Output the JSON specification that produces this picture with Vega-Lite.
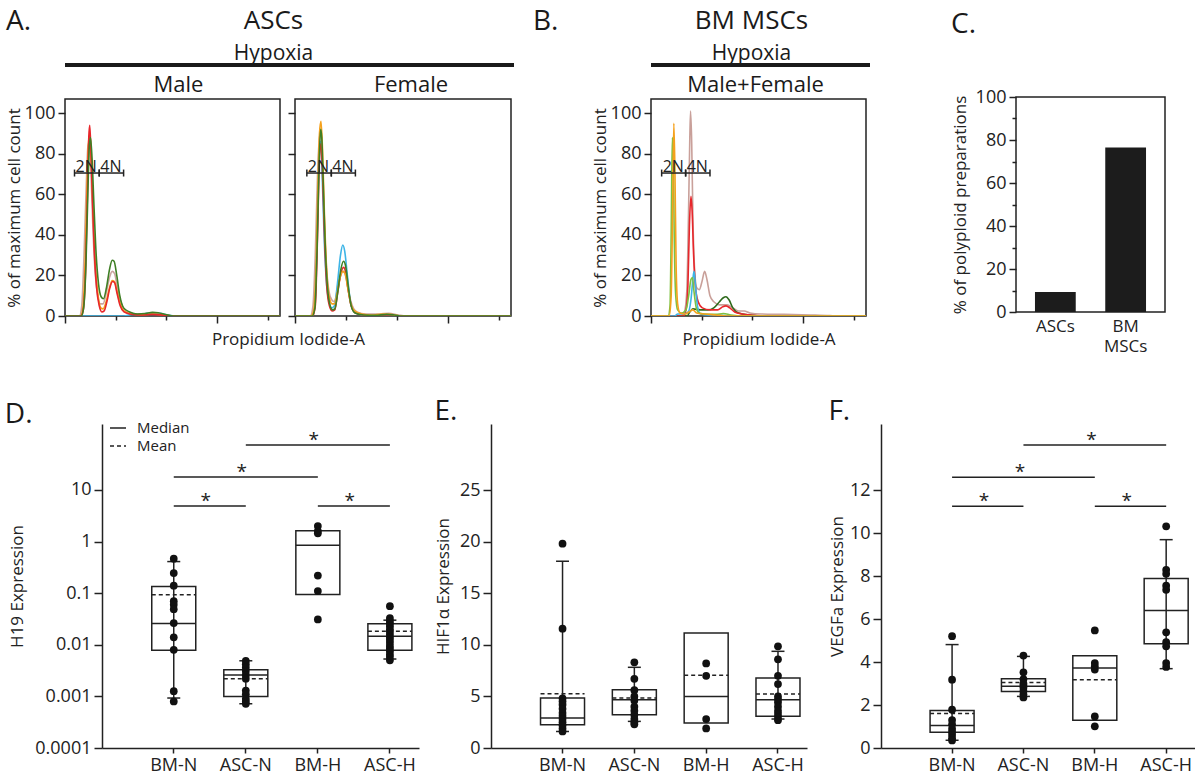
{
"$schema":"https://vega.github.io/schema/vega-lite/v6.json",
"background":"white",
"padding":{"left":3,"top":7,"right":0,"bottom":0},
"config":{
 "font":"Open Sans",
 "view":{"stroke":null},
 "axis":{"grid":false,"labelFont":"Open Sans","titleFont":"Open Sans","labelColor":"#222","titleColor":"#222","domainColor":"#222","tickColor":"#222","labelFontSize":18,"titleFontSize":17,"titleFontWeight":"normal","domainWidth":1.5,"tickWidth":1.5},
 "title":{"font":"Open Sans","fontWeight":"normal","color":"#1a1a1a","subtitleFont":"Open Sans","subtitleColor":"#1a1a1a"},
 "text":{"font":"Open Sans"}
},
"datasets":{
"hist":[
{"panel":"M","s":"cyan","x":0,"y":0},{"panel":"M","s":"cyan","x":1.55,"y":0},{"panel":"M","s":"cyan","x":1.75,"y":0.8},{"panel":"M","s":"cyan","x":2.05,"y":1.0},{"panel":"M","s":"cyan","x":2.3,"y":1.6},{"panel":"M","s":"cyan","x":2.5,"y":1.3},{"panel":"M","s":"cyan","x":2.7,"y":0.5},{"panel":"M","s":"cyan","x":2.9,"y":0},{"panel":"M","s":"cyan","x":5.65,"y":0},
{"panel":"M","s":"rosy","x":0,"y":0},{"panel":"M","s":"rosy","x":0.38,"y":0},{"panel":"M","s":"rosy","x":0.44,"y":5},{"panel":"M","s":"rosy","x":0.5,"y":30},{"panel":"M","s":"rosy","x":0.56,"y":65},{"panel":"M","s":"rosy","x":0.6,"y":83},{"panel":"M","s":"rosy","x":0.64,"y":86},{"panel":"M","s":"rosy","x":0.68,"y":72},{"panel":"M","s":"rosy","x":0.73,"y":45},{"panel":"M","s":"rosy","x":0.79,"y":22},{"panel":"M","s":"rosy","x":0.86,"y":10},{"panel":"M","s":"rosy","x":0.93,"y":6},{"panel":"M","s":"rosy","x":1.0,"y":6},{"panel":"M","s":"rosy","x":1.08,"y":11},{"panel":"M","s":"rosy","x":1.17,"y":19},{"panel":"M","s":"rosy","x":1.24,"y":22},{"panel":"M","s":"rosy","x":1.3,"y":21},{"panel":"M","s":"rosy","x":1.37,"y":15},{"panel":"M","s":"rosy","x":1.45,"y":8},{"panel":"M","s":"rosy","x":1.55,"y":3.5},{"panel":"M","s":"rosy","x":1.7,"y":1.5},{"panel":"M","s":"rosy","x":2.0,"y":1},{"panel":"M","s":"rosy","x":2.3,"y":1.2},{"panel":"M","s":"rosy","x":2.6,"y":0.6},{"panel":"M","s":"rosy","x":2.9,"y":0},{"panel":"M","s":"rosy","x":5.65,"y":0},
{"panel":"M","s":"orange","x":0,"y":0},{"panel":"M","s":"orange","x":0.41,"y":0},{"panel":"M","s":"orange","x":0.47,"y":4},{"panel":"M","s":"orange","x":0.53,"y":28},{"panel":"M","s":"orange","x":0.58,"y":65},{"panel":"M","s":"orange","x":0.62,"y":86},{"panel":"M","s":"orange","x":0.655,"y":90},{"panel":"M","s":"orange","x":0.69,"y":78},{"panel":"M","s":"orange","x":0.74,"y":50},{"panel":"M","s":"orange","x":0.8,"y":25},{"panel":"M","s":"orange","x":0.87,"y":10},{"panel":"M","s":"orange","x":0.94,"y":4},{"panel":"M","s":"orange","x":1.0,"y":3.5},{"panel":"M","s":"orange","x":1.08,"y":7},{"panel":"M","s":"orange","x":1.17,"y":14},{"panel":"M","s":"orange","x":1.24,"y":17.5},{"panel":"M","s":"orange","x":1.3,"y":17},{"panel":"M","s":"orange","x":1.37,"y":12},{"panel":"M","s":"orange","x":1.45,"y":6},{"panel":"M","s":"orange","x":1.55,"y":2.5},{"panel":"M","s":"orange","x":1.7,"y":1.2},{"panel":"M","s":"orange","x":2.0,"y":0.6},{"panel":"M","s":"orange","x":2.3,"y":1},{"panel":"M","s":"orange","x":2.6,"y":0.5},{"panel":"M","s":"orange","x":2.85,"y":0},{"panel":"M","s":"orange","x":5.65,"y":0},
{"panel":"M","s":"red","x":0,"y":0},{"panel":"M","s":"red","x":0.42,"y":0},{"panel":"M","s":"red","x":0.48,"y":3},{"panel":"M","s":"red","x":0.54,"y":22},{"panel":"M","s":"red","x":0.59,"y":60},{"panel":"M","s":"red","x":0.625,"y":88},{"panel":"M","s":"red","x":0.65,"y":94},{"panel":"M","s":"red","x":0.68,"y":82},{"panel":"M","s":"red","x":0.72,"y":58},{"panel":"M","s":"red","x":0.77,"y":32},{"panel":"M","s":"red","x":0.83,"y":14},{"panel":"M","s":"red","x":0.9,"y":5},{"panel":"M","s":"red","x":0.97,"y":2},{"panel":"M","s":"red","x":1.03,"y":2.5},{"panel":"M","s":"red","x":1.1,"y":7},{"panel":"M","s":"red","x":1.18,"y":14},{"panel":"M","s":"red","x":1.25,"y":17},{"panel":"M","s":"red","x":1.3,"y":16.5},{"panel":"M","s":"red","x":1.37,"y":11},{"panel":"M","s":"red","x":1.45,"y":5},{"panel":"M","s":"red","x":1.55,"y":2},{"panel":"M","s":"red","x":1.7,"y":1},{"panel":"M","s":"red","x":2.0,"y":0.5},{"panel":"M","s":"red","x":2.3,"y":0.8},{"panel":"M","s":"red","x":2.6,"y":0.4},{"panel":"M","s":"red","x":2.85,"y":0},{"panel":"M","s":"red","x":5.65,"y":0},
{"panel":"M","s":"green","x":0,"y":0},{"panel":"M","s":"green","x":0.43,"y":0},{"panel":"M","s":"green","x":0.49,"y":4},{"panel":"M","s":"green","x":0.55,"y":25},{"panel":"M","s":"green","x":0.6,"y":60},{"panel":"M","s":"green","x":0.64,"y":84},{"panel":"M","s":"green","x":0.67,"y":88},{"panel":"M","s":"green","x":0.71,"y":78},{"panel":"M","s":"green","x":0.76,"y":55},{"panel":"M","s":"green","x":0.82,"y":30},{"panel":"M","s":"green","x":0.88,"y":16},{"panel":"M","s":"green","x":0.95,"y":9.5},{"panel":"M","s":"green","x":1.01,"y":8.5},{"panel":"M","s":"green","x":1.09,"y":14},{"panel":"M","s":"green","x":1.17,"y":23},{"panel":"M","s":"green","x":1.24,"y":27.5},{"panel":"M","s":"green","x":1.29,"y":27},{"panel":"M","s":"green","x":1.36,"y":20},{"panel":"M","s":"green","x":1.44,"y":10},{"panel":"M","s":"green","x":1.54,"y":4},{"panel":"M","s":"green","x":1.7,"y":2},{"panel":"M","s":"green","x":1.9,"y":1},{"panel":"M","s":"green","x":2.1,"y":1.2},{"panel":"M","s":"green","x":2.3,"y":1.8},{"panel":"M","s":"green","x":2.45,"y":1.6},{"panel":"M","s":"green","x":2.65,"y":0.7},{"panel":"M","s":"green","x":2.85,"y":0},{"panel":"M","s":"green","x":5.65,"y":0},
{"panel":"F","s":"rosy","x":0,"y":0},{"panel":"F","s":"rosy","x":0.4,"y":0},{"panel":"F","s":"rosy","x":0.47,"y":5},{"panel":"F","s":"rosy","x":0.53,"y":30},{"panel":"F","s":"rosy","x":0.59,"y":70},{"panel":"F","s":"rosy","x":0.64,"y":88},{"panel":"F","s":"rosy","x":0.67,"y":90},{"panel":"F","s":"rosy","x":0.71,"y":78},{"panel":"F","s":"rosy","x":0.76,"y":50},{"panel":"F","s":"rosy","x":0.82,"y":25},{"panel":"F","s":"rosy","x":0.89,"y":12},{"panel":"F","s":"rosy","x":0.96,"y":8},{"panel":"F","s":"rosy","x":1.03,"y":7},{"panel":"F","s":"rosy","x":1.1,"y":12},{"panel":"F","s":"rosy","x":1.18,"y":19},{"panel":"F","s":"rosy","x":1.26,"y":22},{"panel":"F","s":"rosy","x":1.32,"y":20},{"panel":"F","s":"rosy","x":1.4,"y":12},{"panel":"F","s":"rosy","x":1.5,"y":5},{"panel":"F","s":"rosy","x":1.62,"y":2},{"panel":"F","s":"rosy","x":1.85,"y":1},{"panel":"F","s":"rosy","x":2.2,"y":1},{"panel":"F","s":"rosy","x":2.45,"y":1.3},{"panel":"F","s":"rosy","x":2.7,"y":0.5},{"panel":"F","s":"rosy","x":2.9,"y":0},{"panel":"F","s":"rosy","x":5.65,"y":0},
{"panel":"F","s":"cyan","x":0,"y":0},{"panel":"F","s":"cyan","x":0.45,"y":0},{"panel":"F","s":"cyan","x":0.52,"y":5},{"panel":"F","s":"cyan","x":0.58,"y":40},{"panel":"F","s":"cyan","x":0.63,"y":78},{"panel":"F","s":"cyan","x":0.67,"y":86},{"panel":"F","s":"cyan","x":0.71,"y":70},{"panel":"F","s":"cyan","x":0.76,"y":40},{"panel":"F","s":"cyan","x":0.82,"y":17},{"panel":"F","s":"cyan","x":0.89,"y":7},{"panel":"F","s":"cyan","x":0.96,"y":4},{"panel":"F","s":"cyan","x":1.03,"y":5},{"panel":"F","s":"cyan","x":1.11,"y":16},{"panel":"F","s":"cyan","x":1.19,"y":30},{"panel":"F","s":"cyan","x":1.25,"y":35},{"panel":"F","s":"cyan","x":1.3,"y":32},{"panel":"F","s":"cyan","x":1.37,"y":20},{"panel":"F","s":"cyan","x":1.45,"y":7},{"panel":"F","s":"cyan","x":1.55,"y":2},{"panel":"F","s":"cyan","x":1.75,"y":0.5},{"panel":"F","s":"cyan","x":2.0,"y":0},{"panel":"F","s":"cyan","x":5.65,"y":0},
{"panel":"F","s":"red","x":0,"y":0},{"panel":"F","s":"red","x":0.46,"y":0},{"panel":"F","s":"red","x":0.53,"y":5},{"panel":"F","s":"red","x":0.59,"y":40},{"panel":"F","s":"red","x":0.64,"y":78},{"panel":"F","s":"red","x":0.68,"y":85},{"panel":"F","s":"red","x":0.72,"y":70},{"panel":"F","s":"red","x":0.77,"y":40},{"panel":"F","s":"red","x":0.83,"y":15},{"panel":"F","s":"red","x":0.9,"y":5},{"panel":"F","s":"red","x":0.97,"y":2.5},{"panel":"F","s":"red","x":1.04,"y":3},{"panel":"F","s":"red","x":1.12,"y":12},{"panel":"F","s":"red","x":1.2,"y":21},{"panel":"F","s":"red","x":1.27,"y":24},{"panel":"F","s":"red","x":1.32,"y":22},{"panel":"F","s":"red","x":1.39,"y":13},{"panel":"F","s":"red","x":1.47,"y":5},{"panel":"F","s":"red","x":1.58,"y":1.5},{"panel":"F","s":"red","x":1.8,"y":0.5},{"panel":"F","s":"red","x":2.1,"y":0},{"panel":"F","s":"red","x":5.65,"y":0},
{"panel":"F","s":"orange","x":0,"y":0},{"panel":"F","s":"orange","x":0.42,"y":0},{"panel":"F","s":"orange","x":0.49,"y":3},{"panel":"F","s":"orange","x":0.55,"y":25},{"panel":"F","s":"orange","x":0.6,"y":65},{"panel":"F","s":"orange","x":0.64,"y":90},{"panel":"F","s":"orange","x":0.68,"y":96},{"panel":"F","s":"orange","x":0.72,"y":82},{"panel":"F","s":"orange","x":0.77,"y":50},{"panel":"F","s":"orange","x":0.83,"y":22},{"panel":"F","s":"orange","x":0.9,"y":9},{"panel":"F","s":"orange","x":0.97,"y":6},{"panel":"F","s":"orange","x":1.03,"y":6},{"panel":"F","s":"orange","x":1.1,"y":11},{"panel":"F","s":"orange","x":1.18,"y":19},{"panel":"F","s":"orange","x":1.25,"y":22},{"panel":"F","s":"orange","x":1.31,"y":21},{"panel":"F","s":"orange","x":1.38,"y":14},{"panel":"F","s":"orange","x":1.46,"y":6},{"panel":"F","s":"orange","x":1.56,"y":2.5},{"panel":"F","s":"orange","x":1.75,"y":1},{"panel":"F","s":"orange","x":2.0,"y":0.5},{"panel":"F","s":"orange","x":2.3,"y":1},{"panel":"F","s":"orange","x":2.5,"y":0.8},{"panel":"F","s":"orange","x":2.75,"y":0},{"panel":"F","s":"orange","x":5.65,"y":0},
{"panel":"F","s":"green","x":0,"y":0},{"panel":"F","s":"green","x":0.45,"y":0},{"panel":"F","s":"green","x":0.52,"y":4},{"panel":"F","s":"green","x":0.58,"y":35},{"panel":"F","s":"green","x":0.63,"y":75},{"panel":"F","s":"green","x":0.67,"y":92},{"panel":"F","s":"green","x":0.7,"y":88},{"panel":"F","s":"green","x":0.74,"y":65},{"panel":"F","s":"green","x":0.79,"y":35},{"panel":"F","s":"green","x":0.85,"y":14},{"panel":"F","s":"green","x":0.92,"y":5},{"panel":"F","s":"green","x":0.98,"y":3},{"panel":"F","s":"green","x":1.04,"y":3.5},{"panel":"F","s":"green","x":1.12,"y":12},{"panel":"F","s":"green","x":1.2,"y":23},{"panel":"F","s":"green","x":1.27,"y":27},{"panel":"F","s":"green","x":1.32,"y":25},{"panel":"F","s":"green","x":1.39,"y":15},{"panel":"F","s":"green","x":1.47,"y":5},{"panel":"F","s":"green","x":1.57,"y":1.5},{"panel":"F","s":"green","x":1.8,"y":0.5},{"panel":"F","s":"green","x":2.1,"y":0.3},{"panel":"F","s":"green","x":2.4,"y":0.8},{"panel":"F","s":"green","x":2.6,"y":0.5},{"panel":"F","s":"green","x":2.8,"y":0},{"panel":"F","s":"green","x":5.65,"y":0},
{"panel":"B","s":"rosy","x":0,"y":0},{"panel":"B","s":"rosy","x":0.8,"y":0},{"panel":"B","s":"rosy","x":0.88,"y":2},{"panel":"B","s":"rosy","x":0.94,"y":12},{"panel":"B","s":"rosy","x":0.99,"y":55},{"panel":"B","s":"rosy","x":1.02,"y":88},{"panel":"B","s":"rosy","x":1.04,"y":101},{"panel":"B","s":"rosy","x":1.07,"y":85},{"panel":"B","s":"rosy","x":1.1,"y":50},{"panel":"B","s":"rosy","x":1.14,"y":25},{"panel":"B","s":"rosy","x":1.2,"y":14},{"panel":"B","s":"rosy","x":1.27,"y":13},{"panel":"B","s":"rosy","x":1.34,"y":17},{"panel":"B","s":"rosy","x":1.41,"y":22},{"panel":"B","s":"rosy","x":1.47,"y":18},{"panel":"B","s":"rosy","x":1.55,"y":10},{"panel":"B","s":"rosy","x":1.65,"y":7},{"panel":"B","s":"rosy","x":1.8,"y":5.5},{"panel":"B","s":"rosy","x":2.0,"y":5.5},{"panel":"B","s":"rosy","x":2.15,"y":4},{"panel":"B","s":"rosy","x":2.3,"y":2.5},{"panel":"B","s":"rosy","x":2.45,"y":2.5},{"panel":"B","s":"rosy","x":2.6,"y":1.5},{"panel":"B","s":"rosy","x":2.9,"y":1},{"panel":"B","s":"rosy","x":3.5,"y":0.8},{"panel":"B","s":"rosy","x":4.2,"y":0.5},{"panel":"B","s":"rosy","x":4.7,"y":0.2},{"panel":"B","s":"rosy","x":4.9,"y":0},{"panel":"B","s":"rosy","x":5.65,"y":0},
{"panel":"B","s":"dgreen","x":0,"y":0},{"panel":"B","s":"dgreen","x":0.95,"y":0},{"panel":"B","s":"dgreen","x":1.02,"y":2},{"panel":"B","s":"dgreen","x":1.1,"y":3.5},{"panel":"B","s":"dgreen","x":1.3,"y":3},{"panel":"B","s":"dgreen","x":1.5,"y":3},{"panel":"B","s":"dgreen","x":1.65,"y":4},{"panel":"B","s":"dgreen","x":1.8,"y":7},{"panel":"B","s":"dgreen","x":1.9,"y":9},{"panel":"B","s":"dgreen","x":1.97,"y":9.5},{"panel":"B","s":"dgreen","x":2.05,"y":8},{"panel":"B","s":"dgreen","x":2.15,"y":4},{"panel":"B","s":"dgreen","x":2.3,"y":1.5},{"panel":"B","s":"dgreen","x":2.6,"y":0.5},{"panel":"B","s":"dgreen","x":3.0,"y":0},{"panel":"B","s":"dgreen","x":5.65,"y":0},
{"panel":"B","s":"red","x":0,"y":0},{"panel":"B","s":"red","x":0.85,"y":0},{"panel":"B","s":"red","x":0.92,"y":3},{"panel":"B","s":"red","x":0.97,"y":15},{"panel":"B","s":"red","x":1.01,"y":45},{"panel":"B","s":"red","x":1.05,"y":59},{"panel":"B","s":"red","x":1.08,"y":52},{"panel":"B","s":"red","x":1.12,"y":30},{"panel":"B","s":"red","x":1.17,"y":14},{"panel":"B","s":"red","x":1.24,"y":7},{"panel":"B","s":"red","x":1.35,"y":4},{"panel":"B","s":"red","x":1.55,"y":3},{"panel":"B","s":"red","x":1.75,"y":3},{"panel":"B","s":"red","x":1.88,"y":4.5},{"panel":"B","s":"red","x":1.97,"y":5},{"panel":"B","s":"red","x":2.07,"y":4},{"panel":"B","s":"red","x":2.2,"y":2},{"panel":"B","s":"red","x":2.4,"y":1},{"panel":"B","s":"red","x":2.7,"y":0.4},{"panel":"B","s":"red","x":3.0,"y":0},{"panel":"B","s":"red","x":5.65,"y":0},
{"panel":"B","s":"cyan","x":0,"y":0},{"panel":"B","s":"cyan","x":0.62,"y":0},{"panel":"B","s":"cyan","x":0.7,"y":1},{"panel":"B","s":"cyan","x":0.85,"y":1},{"panel":"B","s":"cyan","x":0.98,"y":2},{"panel":"B","s":"cyan","x":1.05,"y":8},{"panel":"B","s":"cyan","x":1.1,"y":18},{"panel":"B","s":"cyan","x":1.13,"y":22},{"panel":"B","s":"cyan","x":1.17,"y":15},{"panel":"B","s":"cyan","x":1.22,"y":5},{"panel":"B","s":"cyan","x":1.3,"y":1},{"panel":"B","s":"cyan","x":1.5,"y":0.5},{"panel":"B","s":"cyan","x":1.8,"y":0.5},{"panel":"B","s":"cyan","x":2.1,"y":0},{"panel":"B","s":"cyan","x":5.65,"y":0},
{"panel":"B","s":"ygreen","x":0,"y":0},{"panel":"B","s":"ygreen","x":0.45,"y":0},{"panel":"B","s":"ygreen","x":0.5,"y":5},{"panel":"B","s":"ygreen","x":0.53,"y":40},{"panel":"B","s":"ygreen","x":0.56,"y":88},{"panel":"B","s":"ygreen","x":0.585,"y":80},{"panel":"B","s":"ygreen","x":0.61,"y":40},{"panel":"B","s":"ygreen","x":0.65,"y":10},{"panel":"B","s":"ygreen","x":0.7,"y":3},{"panel":"B","s":"ygreen","x":0.8,"y":1.5},{"panel":"B","s":"ygreen","x":0.92,"y":3},{"panel":"B","s":"ygreen","x":0.99,"y":10},{"panel":"B","s":"ygreen","x":1.05,"y":18},{"panel":"B","s":"ygreen","x":1.09,"y":19},{"panel":"B","s":"ygreen","x":1.13,"y":12},{"panel":"B","s":"ygreen","x":1.19,"y":4},{"panel":"B","s":"ygreen","x":1.26,"y":1.5},{"panel":"B","s":"ygreen","x":1.4,"y":1},{"panel":"B","s":"ygreen","x":1.7,"y":0.8},{"panel":"B","s":"ygreen","x":1.9,"y":1.2},{"panel":"B","s":"ygreen","x":2.1,"y":0.5},{"panel":"B","s":"ygreen","x":2.4,"y":0},{"panel":"B","s":"ygreen","x":5.65,"y":0},
{"panel":"B","s":"orange","x":0,"y":0},{"panel":"B","s":"orange","x":0.48,"y":0},{"panel":"B","s":"orange","x":0.53,"y":10},{"panel":"B","s":"orange","x":0.57,"y":55},{"panel":"B","s":"orange","x":0.6,"y":95},{"panel":"B","s":"orange","x":0.63,"y":70},{"panel":"B","s":"orange","x":0.66,"y":25},{"panel":"B","s":"orange","x":0.7,"y":6},{"panel":"B","s":"orange","x":0.76,"y":1.5},{"panel":"B","s":"orange","x":0.9,"y":1},{"panel":"B","s":"orange","x":1.0,"y":2},{"panel":"B","s":"orange","x":1.1,"y":3},{"panel":"B","s":"orange","x":1.2,"y":1.5},{"panel":"B","s":"orange","x":1.4,"y":1},{"panel":"B","s":"orange","x":1.7,"y":0.5},{"panel":"B","s":"orange","x":2.0,"y":0},{"panel":"B","s":"orange","x":5.65,"y":0}
],
"gates":[
{"panel":"M","gate":"2N","start":0.25,"end":0.9,"level":70.5},{"panel":"M","gate":"4N","start":0.9,"end":1.54,"level":70.5},
{"panel":"F","gate":"2N","start":0.31,"end":0.95,"level":70.5},{"panel":"F","gate":"4N","start":0.95,"end":1.58,"level":70.5},
{"panel":"B","gate":"2N","start":0.28,"end":0.91,"level":70.5},{"panel":"B","gate":"4N","start":0.91,"end":1.55,"level":70.5}
],
"poly":[{"cell":"ASCs","pct":9.3},{"cell":"BM MSCs","pct":76.5}],
"box":[
{"gene":"H19","group":"BM-N","q1":0.0078,"q3":0.135,"Median":0.026,"Mean":0.093,"lo":0.00093,"hi":0.41},
{"gene":"H19","group":"ASC-N","q1":0.001,"q3":0.0033,"Median":0.0026,"Mean":0.0022,"lo":0.00072,"hi":0.0049},
{"gene":"H19","group":"BM-H","q1":0.094,"q3":1.63,"Median":0.85,"Mean":null,"lo":null,"hi":null},
{"gene":"H19","group":"ASC-H","q1":0.0078,"q3":0.0257,"Median":0.0146,"Mean":0.0182,"lo":0.0053,"hi":0.03},
{"gene":"HIF1a","group":"BM-N","q1":2.26,"q3":4.84,"Median":2.9,"Mean":5.26,"lo":1.6,"hi":18.1},
{"gene":"HIF1a","group":"ASC-N","q1":3.23,"q3":5.65,"Median":4.68,"Mean":4.84,"lo":2.58,"hi":7.82},
{"gene":"HIF1a","group":"BM-H","q1":2.42,"q3":11.14,"Median":5.0,"Mean":7.04,"lo":null,"hi":null},
{"gene":"HIF1a","group":"ASC-H","q1":3.07,"q3":6.78,"Median":4.68,"Mean":5.23,"lo":2.81,"hi":9.37},
{"gene":"VEGFa","group":"BM-N","q1":0.73,"q3":1.75,"Median":1.05,"Mean":1.6,"lo":0.36,"hi":4.81},
{"gene":"VEGFa","group":"ASC-N","q1":2.63,"q3":3.22,"Median":2.87,"Mean":3.05,"lo":2.4,"hi":4.26},
{"gene":"VEGFa","group":"BM-H","q1":1.29,"q3":4.29,"Median":3.72,"Mean":3.18,"lo":null,"hi":null},
{"gene":"VEGFa","group":"ASC-H","q1":4.85,"q3":7.88,"Median":6.4,"Mean":null,"lo":3.69,"hi":9.69}
],
"pts":[
{"gene":"H19","group":"BM-N","v":0.466},{"gene":"H19","group":"BM-N","v":0.246},{"gene":"H19","group":"BM-N","v":0.14},{"gene":"H19","group":"BM-N","v":0.07},{"gene":"H19","group":"BM-N","v":0.06},{"gene":"H19","group":"BM-N","v":0.049},{"gene":"H19","group":"BM-N","v":0.0264},{"gene":"H19","group":"BM-N","v":0.014},{"gene":"H19","group":"BM-N","v":0.008},{"gene":"H19","group":"BM-N","v":0.00126},{"gene":"H19","group":"BM-N","v":0.0008},
{"gene":"H19","group":"ASC-N","v":0.0049},{"gene":"H19","group":"ASC-N","v":0.0042},{"gene":"H19","group":"ASC-N","v":0.0036},{"gene":"H19","group":"ASC-N","v":0.0031},{"gene":"H19","group":"ASC-N","v":0.0026},{"gene":"H19","group":"ASC-N","v":0.0022},{"gene":"H19","group":"ASC-N","v":0.0013},{"gene":"H19","group":"ASC-N","v":0.0011},{"gene":"H19","group":"ASC-N","v":0.0009},{"gene":"H19","group":"ASC-N","v":0.0008},{"gene":"H19","group":"ASC-N","v":0.00072},
{"gene":"H19","group":"BM-H","v":2.0},{"gene":"H19","group":"BM-H","v":1.6},{"gene":"H19","group":"BM-H","v":1.45},{"gene":"H19","group":"BM-H","v":0.22},{"gene":"H19","group":"BM-H","v":0.11},{"gene":"H19","group":"BM-H","v":0.031},
{"gene":"H19","group":"ASC-H","v":0.056},{"gene":"H19","group":"ASC-H","v":0.033},{"gene":"H19","group":"ASC-H","v":0.029},{"gene":"H19","group":"ASC-H","v":0.026},{"gene":"H19","group":"ASC-H","v":0.023},{"gene":"H19","group":"ASC-H","v":0.02},{"gene":"H19","group":"ASC-H","v":0.018},{"gene":"H19","group":"ASC-H","v":0.016},{"gene":"H19","group":"ASC-H","v":0.014},{"gene":"H19","group":"ASC-H","v":0.0125},{"gene":"H19","group":"ASC-H","v":0.011},{"gene":"H19","group":"ASC-H","v":0.0095},{"gene":"H19","group":"ASC-H","v":0.0085},{"gene":"H19","group":"ASC-H","v":0.0075},{"gene":"H19","group":"ASC-H","v":0.0065},{"gene":"H19","group":"ASC-H","v":0.0058},{"gene":"H19","group":"ASC-H","v":0.005},
{"gene":"HIF1a","group":"BM-N","v":19.8},{"gene":"HIF1a","group":"BM-N","v":11.56},{"gene":"HIF1a","group":"BM-N","v":4.8},{"gene":"HIF1a","group":"BM-N","v":4.5},{"gene":"HIF1a","group":"BM-N","v":4.2},{"gene":"HIF1a","group":"BM-N","v":3.8},{"gene":"HIF1a","group":"BM-N","v":3.4},{"gene":"HIF1a","group":"BM-N","v":3.1},{"gene":"HIF1a","group":"BM-N","v":2.8},{"gene":"HIF1a","group":"BM-N","v":2.5},{"gene":"HIF1a","group":"BM-N","v":2.2},{"gene":"HIF1a","group":"BM-N","v":1.9},{"gene":"HIF1a","group":"BM-N","v":1.6},
{"gene":"HIF1a","group":"ASC-N","v":8.3},{"gene":"HIF1a","group":"ASC-N","v":6.7},{"gene":"HIF1a","group":"ASC-N","v":5.6},{"gene":"HIF1a","group":"ASC-N","v":5.0},{"gene":"HIF1a","group":"ASC-N","v":4.6},{"gene":"HIF1a","group":"ASC-N","v":4.0},{"gene":"HIF1a","group":"ASC-N","v":3.6},{"gene":"HIF1a","group":"ASC-N","v":3.2},{"gene":"HIF1a","group":"ASC-N","v":2.8},{"gene":"HIF1a","group":"ASC-N","v":2.5},{"gene":"HIF1a","group":"ASC-N","v":2.3},
{"gene":"HIF1a","group":"BM-H","v":8.2},{"gene":"HIF1a","group":"BM-H","v":7.0},{"gene":"HIF1a","group":"BM-H","v":2.8},{"gene":"HIF1a","group":"BM-H","v":1.9},
{"gene":"HIF1a","group":"ASC-H","v":9.85},{"gene":"HIF1a","group":"ASC-H","v":8.6},{"gene":"HIF1a","group":"ASC-H","v":7.0},{"gene":"HIF1a","group":"ASC-H","v":6.2},{"gene":"HIF1a","group":"ASC-H","v":5.0},{"gene":"HIF1a","group":"ASC-H","v":4.7},{"gene":"HIF1a","group":"ASC-H","v":4.4},{"gene":"HIF1a","group":"ASC-H","v":4.0},{"gene":"HIF1a","group":"ASC-H","v":3.6},{"gene":"HIF1a","group":"ASC-H","v":3.3},{"gene":"HIF1a","group":"ASC-H","v":3.0},{"gene":"HIF1a","group":"ASC-H","v":2.7},
{"gene":"VEGFa","group":"BM-N","v":5.2},{"gene":"VEGFa","group":"BM-N","v":3.18},{"gene":"VEGFa","group":"BM-N","v":1.78},{"gene":"VEGFa","group":"BM-N","v":1.3},{"gene":"VEGFa","group":"BM-N","v":1.1},{"gene":"VEGFa","group":"BM-N","v":0.9},{"gene":"VEGFa","group":"BM-N","v":0.75},{"gene":"VEGFa","group":"BM-N","v":0.6},{"gene":"VEGFa","group":"BM-N","v":0.45},{"gene":"VEGFa","group":"BM-N","v":0.35},
{"gene":"VEGFa","group":"ASC-N","v":4.3},{"gene":"VEGFa","group":"ASC-N","v":3.52},{"gene":"VEGFa","group":"ASC-N","v":3.2},{"gene":"VEGFa","group":"ASC-N","v":3.0},{"gene":"VEGFa","group":"ASC-N","v":2.9},{"gene":"VEGFa","group":"ASC-N","v":2.8},{"gene":"VEGFa","group":"ASC-N","v":2.65},{"gene":"VEGFa","group":"ASC-N","v":2.5},{"gene":"VEGFa","group":"ASC-N","v":2.35},
{"gene":"VEGFa","group":"BM-H","v":5.47},{"gene":"VEGFa","group":"BM-H","v":3.95},{"gene":"VEGFa","group":"BM-H","v":3.8},{"gene":"VEGFa","group":"BM-H","v":3.65},{"gene":"VEGFa","group":"BM-H","v":1.47},{"gene":"VEGFa","group":"BM-H","v":1.01},
{"gene":"VEGFa","group":"ASC-H","v":10.31},{"gene":"VEGFa","group":"ASC-H","v":8.29},{"gene":"VEGFa","group":"ASC-H","v":8.1},{"gene":"VEGFa","group":"ASC-H","v":7.55},{"gene":"VEGFa","group":"ASC-H","v":7.36},{"gene":"VEGFa","group":"ASC-H","v":5.38},{"gene":"VEGFa","group":"ASC-H","v":4.92},{"gene":"VEGFa","group":"ASC-H","v":4.73},{"gene":"VEGFa","group":"ASC-H","v":3.95},{"gene":"VEGFa","group":"ASC-H","v":3.77}
],
"sig":[
{"gene":"H19","from":"BM-N","to":"ASC-N","y":4.9,"span":1},{"gene":"H19","from":"BM-N","to":"BM-H","y":17.9,"span":2},{"gene":"H19","from":"ASC-N","to":"ASC-H","y":74.5,"span":2},{"gene":"H19","from":"BM-H","to":"ASC-H","y":4.9,"span":1},
{"gene":"VEGFa","from":"BM-N","to":"ASC-N","y":11.24,"span":1},{"gene":"VEGFa","from":"BM-N","to":"BM-H","y":12.59,"span":2},{"gene":"VEGFa","from":"ASC-N","to":"ASC-H","y":14.09,"span":2},{"gene":"VEGFa","from":"BM-H","to":"ASC-H","y":11.24,"span":1}
]
},
"resolve":{"scale":{"x":"independent","y":"independent","color":"independent","strokeDash":"independent"},"legend":{"strokeDash":"independent","color":"independent"}},
"spacing":43,
"vconcat":[
{
 "spacing":0,
 "resolve":{"scale":{"x":"independent","y":"independent","color":"independent"}},
 "hconcat":[
  {"width":1,"height":1,"data":{"values":[{}]},"mark":{"type":"text","text":""},"encoding":{}},
  {
 "spacing":19,
 "resolve":{"scale":{"x":"independent","y":"independent","color":"independent"}},
 "hconcat":[
  {
   "bounds":"flush",
   "spacing":32,
   "vconcat":[
    {"width":449,"height":1,"title":{"text":"A.","fontSize":28,"anchor":"start","frame":"group","offset":-11,"dx":-59},
     "data":{"values":[{}]},"mark":{"type":"text","text":""},"encoding":{}},
    {"width":449,"height":4,"view":{"fill":"#1a1a1a","stroke":null},
     "title":{"text":"ASCs","subtitle":"Hypoxia","fontSize":26,"subtitleFontSize":21,"subtitlePadding":9,"offset":-5,"anchor":"middle","frame":"group","dx":-16},
     "data":{"values":[{}]},"mark":{"type":"text","text":""},"encoding":{}},
    {"bounds":"flush","spacing":15,
     "hconcat":[
      {"width":215,"height":217,"view":{"stroke":"#222","strokeWidth":1.5},
       "title":{"text":"Male","fontSize":22,"offset":2,"dx":6},
       "layer":[
        {"data":{"name":"hist"},"transform":[{"filter":"datum.panel === 'M'"}],
         "mark":{"type":"line","interpolate":"monotone","strokeWidth":1.6,"clip":true},
         "encoding":{
          "x":{"field":"x","type":"quantitative","scale":{"domain":[0,5.65],"nice":false,"zero":false},
               "axis":{"values":[0,0.3333,0.6667,1,1.3333,1.6667,2,2.3333,2.6667,3,3.3333,3.6667,4,4.3333,4.6667,5,5.3333],"labels":false,"domain":false,"tickSize":{"condition":{"test":"abs(datum.value - round(datum.value)) < 0.01","value":7},"value":4},"title":"Propidium Iodide-A","titleX":223,"titlePadding":8,"titleFontSize":17}},
          "y":{"field":"y","type":"quantitative","scale":{"domain":[0,107],"nice":false},
               "axis":{"values":[0,5,10,15,20,25,30,35,40,45,50,55,60,65,70,75,80,85,90,95,100,105],"labelExpr":"datum.value % 20 === 0 ? datum.label : ''","tickSize":{"condition":{"test":"datum.value % 20 === 0","value":7},"value":4},"domain":false,"labelPadding":3,"title":"% of maximum cell count","titlePadding":1}},
          "color":{"field":"s","type":"nominal","scale":{"domain":["cyan","rosy","orange","red","green","ygreen","dgreen"],"range":["#3db4e6","#cba5a0","#f5a11c","#e8262b","#3f7f25","#8cc63e","#2e6a1c"]},"legend":null}}},
        {"data":{"name":"gates"},"transform":[{"filter":"datum.panel === 'M'"}],
         "mark":{"type":"rule","strokeWidth":1.5,"color":"#222"},
         "encoding":{"x":{"field":"start","type":"quantitative"},"x2":{"field":"end"},"y":{"field":"level","type":"quantitative"}}},
        {"data":{"name":"gates"},"transform":[{"filter":"datum.panel === 'M'"},{"fold":["start","end"],"as":["side","pos"]}],
         "mark":{"type":"tick","orient":"vertical","size":7,"thickness":1.5,"color":"#222","opacity":1},
         "encoding":{"x":{"field":"pos","type":"quantitative"},"y":{"field":"level","type":"quantitative"}}},
        {"data":{"name":"gates"},"transform":[{"filter":"datum.panel === 'M'"}],
         "mark":{"type":"text","align":"left","baseline":"alphabetic","dx":1,"dy":-1,"fontSize":16,"color":"#222"},
         "encoding":{"x":{"field":"start","type":"quantitative"},"y":{"field":"level","type":"quantitative"},"text":{"field":"gate"}}}
       ]},
      {"width":216,"height":217,"view":{"stroke":"#222","strokeWidth":1.5},
       "title":{"text":"Female","fontSize":22,"offset":2,"dx":8},
       "layer":[
        {"data":{"name":"hist"},"transform":[{"filter":"datum.panel === 'F'"}],
         "mark":{"type":"line","interpolate":"monotone","strokeWidth":1.6,"clip":true},
         "encoding":{
          "x":{"field":"x","type":"quantitative","scale":{"domain":[0,5.65],"nice":false,"zero":false},
               "axis":{"values":[0,0.3333,0.6667,1,1.3333,1.6667,2,2.3333,2.6667,3,3.3333,3.6667,4,4.3333,4.6667,5,5.3333],"labels":false,"domain":false,"tickSize":{"condition":{"test":"abs(datum.value - round(datum.value)) < 0.01","value":7},"value":4},"title":null}},
          "y":{"field":"y","type":"quantitative","scale":{"domain":[0,107],"nice":false},
               "axis":{"values":[0,5,10,15,20,25,30,35,40,45,50,55,60,65,70,75,80,85,90,95,100,105],"labels":false,"tickSize":{"condition":{"test":"datum.value % 20 === 0","value":7},"value":4},"domain":false,"title":null}},
          "color":{"field":"s","type":"nominal","scale":{"domain":["cyan","rosy","orange","red","green","ygreen","dgreen"],"range":["#3db4e6","#cba5a0","#f5a11c","#e8262b","#3f7f25","#8cc63e","#2e6a1c"]},"legend":null}}},
        {"data":{"name":"gates"},"transform":[{"filter":"datum.panel === 'F'"}],
         "mark":{"type":"rule","strokeWidth":1.5,"color":"#222"},
         "encoding":{"x":{"field":"start","type":"quantitative"},"x2":{"field":"end"},"y":{"field":"level","type":"quantitative"}}},
        {"data":{"name":"gates"},"transform":[{"filter":"datum.panel === 'F'"},{"fold":["start","end"],"as":["side","pos"]}],
         "mark":{"type":"tick","orient":"vertical","size":7,"thickness":1.5,"color":"#222","opacity":1},
         "encoding":{"x":{"field":"pos","type":"quantitative"},"y":{"field":"level","type":"quantitative"}}},
        {"data":{"name":"gates"},"transform":[{"filter":"datum.panel === 'F'"}],
         "mark":{"type":"text","align":"left","baseline":"alphabetic","dx":1,"dy":-1,"fontSize":16,"color":"#222"},
         "encoding":{"x":{"field":"start","type":"quantitative"},"y":{"field":"level","type":"quantitative"},"text":{"field":"gate"}}}
       ]}
     ]}
   ]
  },
  {
   "spacing":80,
   "resolve":{"scale":{"x":"independent","y":"independent","color":"independent"}},
   "hconcat":[
    {
     "bounds":"flush",
     "spacing":32,
     "vconcat":[
      {"width":219,"height":1,"title":{"text":"B.","fontSize":28,"anchor":"start","frame":"group","offset":-11,"dx":-118},
       "data":{"values":[{}]},"mark":{"type":"text","text":""},"encoding":{}},
      {"width":219,"height":4,"view":{"fill":"#1a1a1a","stroke":null},
       "title":{"text":"BM MSCs","subtitle":"Hypoxia","fontSize":26,"subtitleFontSize":21,"subtitlePadding":9,"offset":-5,"anchor":"middle","frame":"group","dx":-9},
       "data":{"values":[{}]},"mark":{"type":"text","text":""},"encoding":{}},
      {"width":215,"height":217,"view":{"stroke":"#222","strokeWidth":1.5},
       "title":{"text":"Male+Female","fontSize":22,"offset":2,"dx":-3},
       "layer":[
        {"data":{"name":"hist"},"transform":[{"filter":"datum.panel === 'B'"}],
         "mark":{"type":"line","interpolate":"monotone","strokeWidth":1.6,"clip":true},
         "encoding":{
          "x":{"field":"x","type":"quantitative","scale":{"domain":[0,5.65],"nice":false,"zero":false},
               "axis":{"values":[0,0.3333,0.6667,1,1.3333,1.6667,2,2.3333,2.6667,3,3.3333,3.6667,4,4.3333,4.6667,5,5.3333],"labels":false,"domain":false,"tickSize":{"condition":{"test":"abs(datum.value - round(datum.value)) < 0.01","value":7},"value":4},"title":"Propidium Iodide-A","titlePadding":8,"titleFontSize":17}},
          "y":{"field":"y","type":"quantitative","scale":{"domain":[0,107],"nice":false},
               "axis":{"values":[0,5,10,15,20,25,30,35,40,45,50,55,60,65,70,75,80,85,90,95,100,105],"labelExpr":"datum.value % 20 === 0 ? datum.label : ''","tickSize":{"condition":{"test":"datum.value % 20 === 0","value":7},"value":4},"domain":false,"labelPadding":3,"title":"% of maximum cell count","titlePadding":1}},
          "color":{"field":"s","type":"nominal","scale":{"domain":["cyan","rosy","orange","red","green","ygreen","dgreen"],"range":["#3db4e6","#c9a09a","#f5a11c","#e8262b","#3f7f25","#7cc242","#2e6a1c"]},"legend":null}}},
        {"data":{"name":"gates"},"transform":[{"filter":"datum.panel === 'B'"}],
         "mark":{"type":"rule","strokeWidth":1.5,"color":"#222"},
         "encoding":{"x":{"field":"start","type":"quantitative"},"x2":{"field":"end"},"y":{"field":"level","type":"quantitative"}}},
        {"data":{"name":"gates"},"transform":[{"filter":"datum.panel === 'B'"},{"fold":["start","end"],"as":["side","pos"]}],
         "mark":{"type":"tick","orient":"vertical","size":7,"thickness":1.5,"color":"#222","opacity":1},
         "encoding":{"x":{"field":"pos","type":"quantitative"},"y":{"field":"level","type":"quantitative"}}},
        {"data":{"name":"gates"},"transform":[{"filter":"datum.panel === 'B'"}],
         "mark":{"type":"text","align":"left","baseline":"alphabetic","dx":1,"dy":-1,"fontSize":16,"color":"#222"},
         "encoding":{"x":{"field":"start","type":"quantitative"},"y":{"field":"level","type":"quantitative"},"text":{"field":"gate"}}}
       ]}
     ]
    },
    {
     "bounds":"flush",
     "spacing":66,
     "vconcat":[
      {"width":149,"height":1,"data":{"values":[{}]},"mark":{"type":"text","text":""},"encoding":{}},
      {
       "title":{"text":"C.","fontSize":28,"anchor":"start","frame":"bounds","offset":49,"dx":0},
       "width":149,"height":215,"view":{"stroke":"#222","strokeWidth":1.5},
       "data":{"name":"poly"},
       "mark":{"type":"bar","color":"#1c1c1c"},
       "encoding":{
        "x":{"field":"cell","type":"nominal","sort":null,"scale":{"paddingInner":0.42,"paddingOuter":0.27},
             "axis":{"title":null,"labelAngle":0,"ticks":false,"domain":false,"labelExpr":"split(datum.label, ' ')","labelFontSize":17,"labelPadding":6,"labelLineHeight":20}},
        "y":{"field":"pct","type":"quantitative","scale":{"domain":[0,100],"nice":false},
             "axis":{"values":[0,10,20,30,40,50,60,70,80,90,100],"labelExpr":"datum.value % 20 === 0 ? datum.label : ''","tickSize":{"condition":{"test":"datum.value % 20 === 0","value":7},"value":4},"domain":false,"labelPadding":3,"title":"% of polyploid preparations","titlePadding":6}}}
      }
     ]
    }
   ]
  }
 ]
  }
 ]
},
{
 "spacing":0,
 "resolve":{"scale":{"x":"independent","y":"independent","strokeDash":"independent"},"legend":{"strokeDash":"independent"}},
 "hconcat":[
  {"width":1,"height":1,"data":{"values":[{}]},"mark":{"type":"text","text":""},"encoding":{}},
  {
 "spacing":15,
 "resolve":{"scale":{"x":"independent","y":"independent","strokeDash":"independent"},"legend":{"strokeDash":"independent"}},
 "hconcat":[
  {
   "title":{"text":"D.","fontSize":28,"anchor":"start","frame":"bounds","offset":-10,"dx":-4},
   "width":317,"height":324,
   "layer":[
    {"data":{"name":"box"},"transform":[{"filter":"datum.gene === 'H19' && datum.lo != null"}],
     "mark":{"type":"rule","color":"#222","strokeWidth":1.5},
     "encoding":{"x":{"field":"group","type":"nominal","scale":{"domain":["BM-N","ASC-N","BM-H","ASC-H"],"paddingInner":0.4,"paddingOuter":0.4,"align":0.87},"axis":{"title":null,"labelAngle":0,"tickSize":5,"labelPadding":3}},
                 "y":{"field":"lo","type":"quantitative","scale":{"type":"log","domain":[0.0001,190],"nice":false},"axis":{"values":[0.0001,0.001,0.01,0.1,1,10],"labelExpr":"'' + datum.value","title":"H19 Expression","tickSize":8,"labelPadding":3,"titlePadding":8}},
                 "y2":{"field":"hi"}}},
    {"data":{"name":"box"},"transform":[{"filter":"datum.gene === 'H19' && datum.lo != null"},{"fold":["lo","hi"],"as":["end","val"]}],
     "mark":{"type":"tick","orient":"horizontal","size":13,"thickness":1.5,"color":"#222","opacity":1},
     "encoding":{"x":{"field":"group","type":"nominal"},"y":{"field":"val","type":"quantitative"}}},
    {"data":{"name":"box"},"transform":[{"filter":"datum.gene === 'H19'"}],
     "mark":{"type":"bar","size":44,"fill":"#ffffff","fillOpacity":0,"stroke":"#222","strokeWidth":1.5},
     "encoding":{"x":{"field":"group","type":"nominal"},"y":{"field":"q1","type":"quantitative"},"y2":{"field":"q3"}}},
    {"data":{"name":"box"},"transform":[{"filter":"datum.gene === 'H19'"},{"fold":["Median","Mean"],"as":["stat","val"]},{"filter":"datum.val != null"}],
     "mark":{"type":"tick","orient":"horizontal","size":44,"thickness":0,"filled":false,"stroke":"#222","strokeWidth":1.5,"opacity":1},
     "encoding":{"x":{"field":"group","type":"nominal"},"y":{"field":"val","type":"quantitative"},
                 "strokeDash":{"field":"stat","type":"nominal","scale":{"domain":["Median","Mean"],"range":[[1,0],[4,3]]},
                   "legend":{"title":null,"orient":"none","legendX":7,"legendY":-5,"symbolType":"stroke","symbolSize":256,"symbolStrokeWidth":1.5,"symbolStrokeColor":"#222","labelFontSize":15,"labelFont":"Open Sans","labelColor":"#222","rowPadding":1,"labelOffset":10,"padding":0}}}},
    {"data":{"name":"pts"},"transform":[{"filter":"datum.gene === 'H19'"}],
     "mark":{"type":"point","filled":true,"size":60,"color":"#111","opacity":1},
     "encoding":{"x":{"field":"group","type":"nominal"},"y":{"field":"v","type":"quantitative"}}},
    {"data":{"name":"sig"},"transform":[{"filter":"datum.gene === 'H19'"}],
     "mark":{"type":"rule","color":"#222","strokeWidth":1.5},
     "encoding":{"x":{"field":"from","type":"nominal","bandPosition":0.5},"x2":{"field":"to","bandPosition":0.5},"y":{"field":"y","type":"quantitative"}}},
    {"data":{"name":"sig"},"transform":[{"filter":"datum.gene === 'H19' && datum.span === 1"}],
     "mark":{"type":"text","text":"*","fontSize":19,"dx":32,"dy":1,"baseline":"alphabetic","color":"#222"},
     "encoding":{"x":{"field":"from","type":"nominal"},"y":{"field":"y","type":"quantitative"}}},
    {"data":{"name":"sig"},"transform":[{"filter":"datum.gene === 'H19' && datum.span === 2"}],
     "mark":{"type":"text","text":"*","fontSize":19,"dx":68,"dy":1,"baseline":"alphabetic","color":"#222"},
     "encoding":{"x":{"field":"from","type":"nominal"},"y":{"field":"y","type":"quantitative"}}}
   ]
  },
  {
   "spacing":21,
   "resolve":{"scale":{"x":"independent","y":"independent","strokeDash":"independent"},"legend":{"strokeDash":"independent"}},
   "hconcat":[
  {
   "title":{"text":"E.","fontSize":28,"anchor":"start","frame":"bounds","offset":-2,"dx":0},
   "width":316,"height":324,
   "layer":[
    {"data":{"name":"box"},"transform":[{"filter":"datum.gene === 'HIF1a' && datum.lo != null"}],
     "mark":{"type":"rule","color":"#222","strokeWidth":1.5},
     "encoding":{"x":{"field":"group","type":"nominal","scale":{"domain":["BM-N","ASC-N","BM-H","ASC-H"],"paddingInner":0.4,"paddingOuter":0.4,"align":0.87},"axis":{"title":null,"labelAngle":0,"tickSize":5,"labelPadding":3}},
                 "y":{"field":"lo","type":"quantitative","scale":{"domain":[0,31.4],"nice":false},"axis":{"values":[0,5,10,15,20,25],"title":"HIF1α Expression","tickSize":8,"labelPadding":3,"titlePadding":7}},
                 "y2":{"field":"hi"}}},
    {"data":{"name":"box"},"transform":[{"filter":"datum.gene === 'HIF1a' && datum.lo != null"},{"fold":["lo","hi"],"as":["end","val"]}],
     "mark":{"type":"tick","orient":"horizontal","size":13,"thickness":1.5,"color":"#222","opacity":1},
     "encoding":{"x":{"field":"group","type":"nominal"},"y":{"field":"val","type":"quantitative"}}},
    {"data":{"name":"box"},"transform":[{"filter":"datum.gene === 'HIF1a'"}],
     "mark":{"type":"bar","size":44,"fill":"#ffffff","fillOpacity":0,"stroke":"#222","strokeWidth":1.5},
     "encoding":{"x":{"field":"group","type":"nominal"},"y":{"field":"q1","type":"quantitative"},"y2":{"field":"q3"}}},
    {"data":{"name":"box"},"transform":[{"filter":"datum.gene === 'HIF1a'"},{"fold":["Median","Mean"],"as":["stat","val"]},{"filter":"datum.val != null"}],
     "mark":{"type":"tick","orient":"horizontal","size":44,"thickness":0,"filled":false,"stroke":"#222","strokeWidth":1.5,"opacity":1},
     "encoding":{"x":{"field":"group","type":"nominal"},"y":{"field":"val","type":"quantitative"},
                 "strokeDash":{"field":"stat","type":"nominal","scale":{"domain":["Median","Mean"],"range":[[1,0],[4,3]]},"legend":null}}},
    {"data":{"name":"pts"},"transform":[{"filter":"datum.gene === 'HIF1a'"}],
     "mark":{"type":"point","filled":true,"size":60,"color":"#111","opacity":1},
     "encoding":{"x":{"field":"group","type":"nominal"},"y":{"field":"v","type":"quantitative"}}}
   ]
  },
  {
   "title":{"text":"F.","fontSize":28,"anchor":"start","frame":"bounds","offset":-2,"dx":0},
   "width":314,"height":324,
   "layer":[
    {"data":{"name":"box"},"transform":[{"filter":"datum.gene === 'VEGFa' && datum.lo != null"}],
     "mark":{"type":"rule","color":"#222","strokeWidth":1.5},
     "encoding":{"x":{"field":"group","type":"nominal","scale":{"domain":["BM-N","ASC-N","BM-H","ASC-H"],"paddingInner":0.4,"paddingOuter":0.4,"align":0.87},"axis":{"title":null,"labelAngle":0,"tickSize":5,"labelPadding":3}},
                 "y":{"field":"lo","type":"quantitative","scale":{"domain":[0,15.07],"nice":false},"axis":{"values":[0,2,4,6,8,10,12],"title":"VEGFa Expression","tickSize":8,"labelPadding":3,"titlePadding":3}},
                 "y2":{"field":"hi"}}},
    {"data":{"name":"box"},"transform":[{"filter":"datum.gene === 'VEGFa' && datum.lo != null"},{"fold":["lo","hi"],"as":["end","val"]}],
     "mark":{"type":"tick","orient":"horizontal","size":13,"thickness":1.5,"color":"#222","opacity":1},
     "encoding":{"x":{"field":"group","type":"nominal"},"y":{"field":"val","type":"quantitative"}}},
    {"data":{"name":"box"},"transform":[{"filter":"datum.gene === 'VEGFa'"}],
     "mark":{"type":"bar","size":44,"fill":"#ffffff","fillOpacity":0,"stroke":"#222","strokeWidth":1.5},
     "encoding":{"x":{"field":"group","type":"nominal"},"y":{"field":"q1","type":"quantitative"},"y2":{"field":"q3"}}},
    {"data":{"name":"box"},"transform":[{"filter":"datum.gene === 'VEGFa'"},{"fold":["Median","Mean"],"as":["stat","val"]},{"filter":"datum.val != null"}],
     "mark":{"type":"tick","orient":"horizontal","size":44,"thickness":0,"filled":false,"stroke":"#222","strokeWidth":1.5,"opacity":1},
     "encoding":{"x":{"field":"group","type":"nominal"},"y":{"field":"val","type":"quantitative"},
                 "strokeDash":{"field":"stat","type":"nominal","scale":{"domain":["Median","Mean"],"range":[[1,0],[4,3]]},"legend":null}}},
    {"data":{"name":"pts"},"transform":[{"filter":"datum.gene === 'VEGFa'"}],
     "mark":{"type":"point","filled":true,"size":60,"color":"#111","opacity":1},
     "encoding":{"x":{"field":"group","type":"nominal"},"y":{"field":"v","type":"quantitative"}}},
    {"data":{"name":"sig"},"transform":[{"filter":"datum.gene === 'VEGFa'"}],
     "mark":{"type":"rule","color":"#222","strokeWidth":1.5},
     "encoding":{"x":{"field":"from","type":"nominal","bandPosition":0.5},"x2":{"field":"to","bandPosition":0.5},"y":{"field":"y","type":"quantitative"}}},
    {"data":{"name":"sig"},"transform":[{"filter":"datum.gene === 'VEGFa' && datum.span === 1"}],
     "mark":{"type":"text","text":"*","fontSize":19,"dx":32,"dy":1,"baseline":"alphabetic","color":"#222"},
     "encoding":{"x":{"field":"from","type":"nominal"},"y":{"field":"y","type":"quantitative"}}},
    {"data":{"name":"sig"},"transform":[{"filter":"datum.gene === 'VEGFa' && datum.span === 2"}],
     "mark":{"type":"text","text":"*","fontSize":19,"dx":68,"dy":1,"baseline":"alphabetic","color":"#222"},
     "encoding":{"x":{"field":"from","type":"nominal"},"y":{"field":"y","type":"quantitative"}}}
   ]
  }
   ]
  }
 ]
  }
 ]
}
]
}
